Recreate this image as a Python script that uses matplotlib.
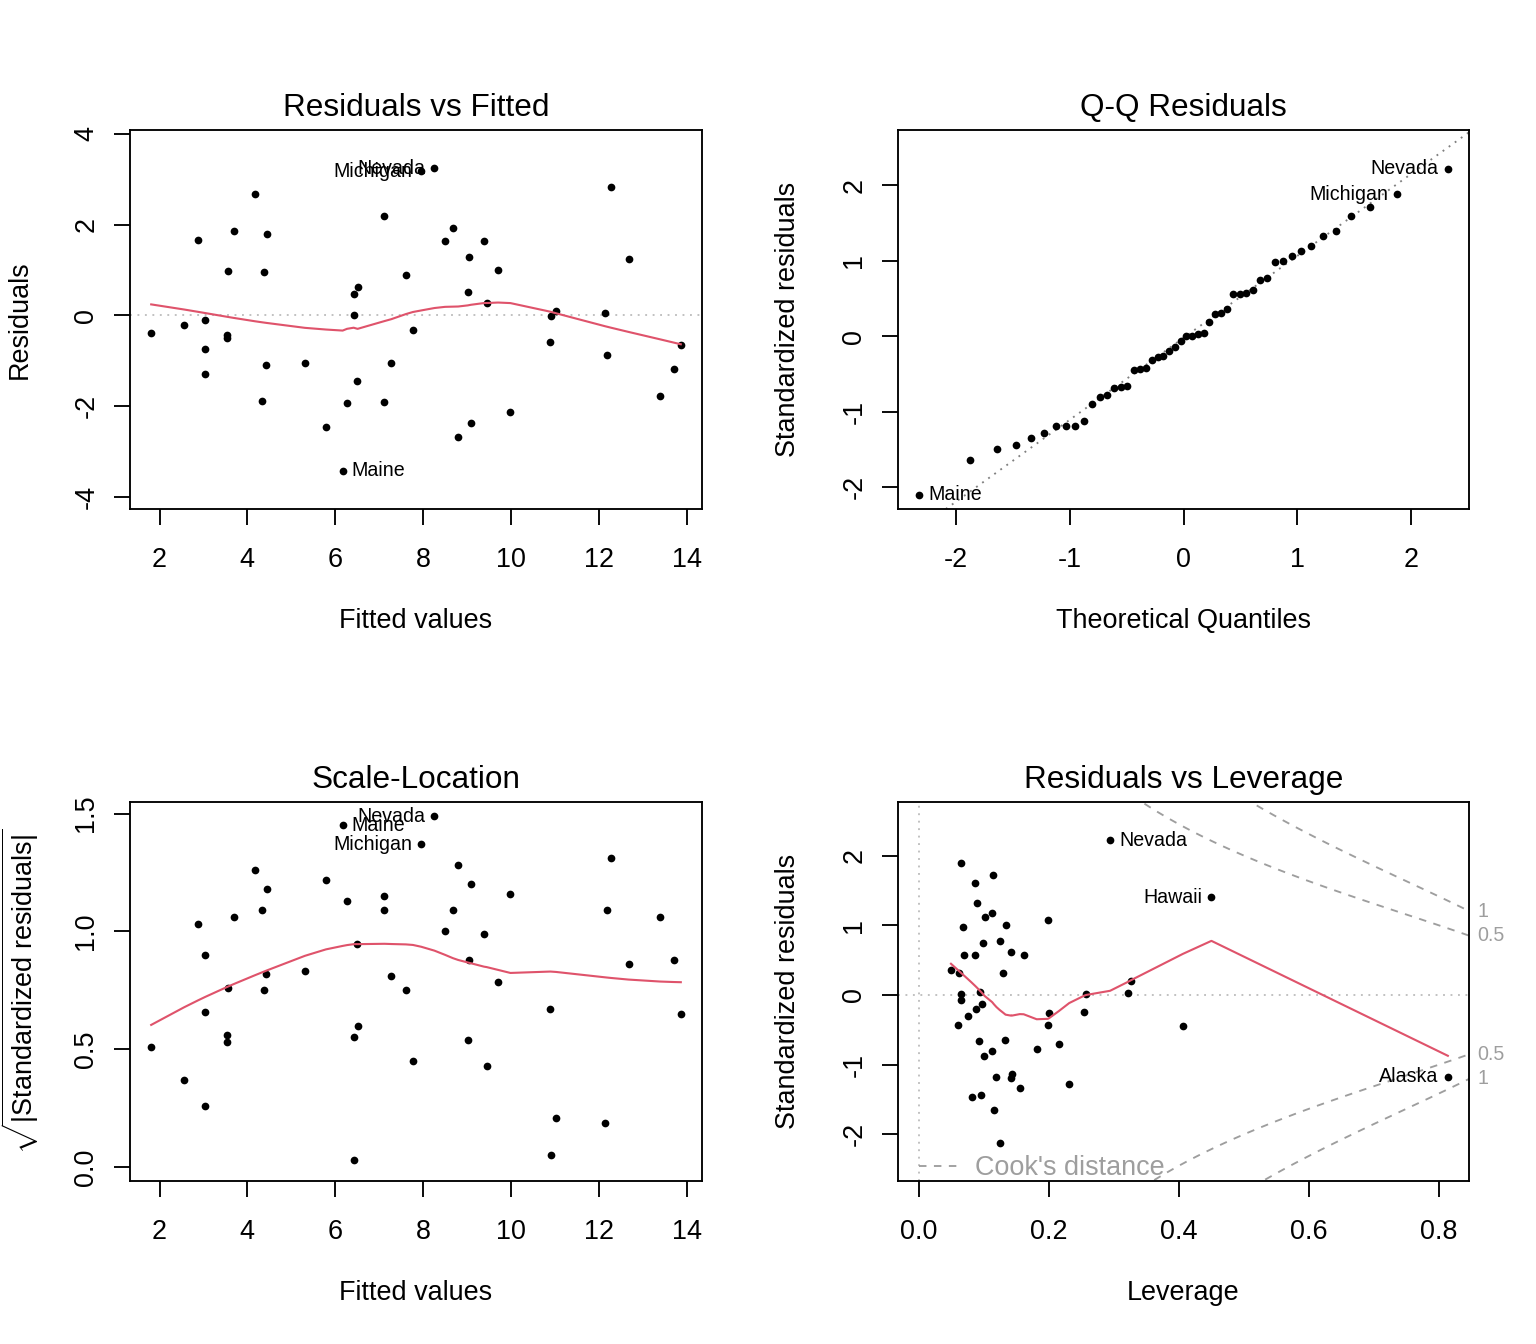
"""Regression diagnostics (plot.lm style) for a linear model on the 50 US states."""

from statistics import NormalDist

import numpy as np
import matplotlib
matplotlib.use("Agg")
from matplotlib import pyplot as plt
from matplotlib.lines import Line2D

plt.rcParams["font.family"] = ["Liberation Sans", "DejaVu Sans"]
plt.rcParams["mathtext.fontset"] = "custom"
plt.rcParams["mathtext.rm"] = "Liberation Sans"
plt.rcParams["mathtext.it"] = "Liberation Sans:italic"
plt.rcParams["axes.unicode_minus"] = False

# --- one entry per state: fitted value, raw residual, sqrt(|standardized residual|) ---
fitted = [1.81, 2.56, 2.88, 3.04, 3.04, 3.04, 3.57, 3.69, 3.54, 3.54,
          4.17, 4.44, 4.39, 4.43, 4.33, 5.31, 5.79, 6.17, 6.27, 6.42,
          6.51, 6.42, 6.49, 7.12, 7.12, 7.28, 7.61, 7.77, 7.96, 8.26,
          8.50, 8.68, 9.05, 9.02, 9.39, 9.45, 9.71, 8.80, 9.09, 9.99,
          10.90, 10.92, 11.03, 12.14, 12.29, 12.19, 12.68, 13.40, 13.71, 13.87]
residuals = [-0.39, -0.21, 1.65, -0.10, -0.73, -1.29, 0.97, 1.85, -0.43, -0.49,
             2.67, 1.79, 0.95, -1.10, -1.88, -1.05, -2.45, -3.42, -1.93, 0.48,
             0.62, 0.01, -1.44, 2.18, -1.91, -1.05, 0.90, -0.33, 3.17, 3.24,
             1.63, 1.92, 1.28, 0.51, 1.63, 0.27, 1.00, -2.67, -2.37, -2.13,
             -0.59, -0.01, 0.09, 0.06, 2.82, -0.88, 1.24, -1.77, -1.18, -0.65]
sqrt_abs_std = [0.51, 0.37, 1.03, 0.26, 0.66, 0.90, 0.76, 1.06, 0.53, 0.56,
                1.26, 1.18, 0.75, 0.82, 1.09, 0.83, 1.22, 1.45, 1.13, 0.55,
                0.60, 0.03, 0.945, 1.15, 1.09, 0.81, 0.75, 0.45, 1.37, 1.49,
                1.00, 1.09, 0.88, 0.54, 0.99, 0.43, 0.785, 1.28, 1.20, 1.16,
                0.67, 0.05, 0.21, 0.185, 1.31, 1.09, 0.86, 1.06, 0.88, 0.65]
fit_names = {17: "Maine", 28: "Michigan", 29: "Nevada"}

# --- Residuals vs Leverage panel ---
leverage = [0.064, 0.113, 0.086, 0.089, 0.112, 0.101, 0.067, 0.133, 0.198, 0.098,
            0.124, 0.069, 0.086, 0.141, 0.161, 0.129, 0.049, 0.062, 0.094, 0.065,
            0.065, 0.096, 0.088, 0.075, 0.060, 0.200, 0.198, 0.257, 0.254, 0.326,
            0.321, 0.406, 0.294, 0.450, 0.814, 0.092, 0.132, 0.112, 0.100, 0.181,
            0.215, 0.119, 0.143, 0.142, 0.155, 0.231, 0.081, 0.095, 0.115, 0.124]
lev_std_resid = [1.90, 1.72, 1.61, 1.32, 1.18, 1.12, 0.98, 1.00, 1.07, 0.745,
                 0.78, 0.58, 0.58, 0.62, 0.58, 0.31, 0.36, 0.31, 0.05, 0.01,
                 -0.07, -0.13, -0.20, -0.30, -0.43, -0.26, -0.43, 0.01, -0.25, 0.20,
                 0.03, -0.44, 2.22, 1.40, -1.17, -0.66, -0.65, -0.80, -0.88, -0.77,
                 -0.70, -1.17, -1.14, -1.19, -1.34, -1.28, -1.47, -1.44, -1.65, -2.12]
lev_names = {32: "Nevada", 33: "Hawaii", 34: "Alaska"}
n_coef = 8
cook_levels = [0.5, 1]

# --- axis ticks ---
fit_ticks = [2, 4, 6, 8, 10, 12, 14]
resid_ticks = [-4, -2, 0, 2, 4]
qq_ticks = [-2, -1, 0, 1, 2]
sl_ticks = [0.0, 0.5, 1.0, 1.5]
sl_ticklabels = ["0.0", "0.5", "1.0", "1.5"]
lev_ticks = [0.0, 0.2, 0.4, 0.6, 0.8]
lev_ticklabels = ["0.0", "0.2", "0.4", "0.6", "0.8"]

RED = "#DF536B"
COOK = "#9E9E9E"
W, H, DPI = 1536, 1344, 168
BASE, TITLE, ID = 11.6, 13.5, 8.4


def lowess(x, y, f=2 / 3, iters=3):
    """R-style lowess (tricube weights + bisquare robustness iterations)."""
    x = np.asarray(x, float)
    y = np.asarray(y, float)
    order = np.argsort(x, kind="stable")
    x, y = x[order], y[order]
    n = len(x)
    ns = max(min(int(f * n + 1e-7), n), 2)
    rng = x[-1] - x[0]
    rw = np.ones(n)
    fit = y.copy()
    for it in range(iters + 1):
        for i in range(n):
            d = np.abs(x - x[i])
            h = np.sort(d)[ns - 1]
            if h > 0:
                w = np.where(d <= 0.999 * h, (1 - np.clip(d / h, 0, 1) ** 3) ** 3, 0.0)
                w[d <= 0.001 * h] = 1.0
            else:
                w = (d == 0).astype(float)
            w = w * rw
            if w.sum() <= 0:
                fit[i] = y[i]
                continue
            w = w / w.sum()
            a = np.sum(w * x)
            c = np.sum(w * (x - a) ** 2)
            if np.sqrt(c) > 0.001 * rng:
                w = w * ((x[i] - a) * (x - a) / c + 1)
            fit[i] = np.sum(w * y)
        if it == iters:
            break
        res = np.abs(y - fit)
        cmad = 6 * np.median(res)
        if cmad < 1e-7 * np.mean(np.abs(y)):
            break
        u = res / cmad
        rw = np.where(u < 0.999, (1 - u ** 2) ** 2, 0.0)
        rw[u <= 0.001] = 1.0
    return x, fit


def extend(lo, hi, f):
    d = (hi - lo) * f
    return lo - d, hi + d


def box(l, t, r, b):
    return [l / W, 1 - b / H, (r - l) / W, (b - t) / H]


def frame(ax, title, xlabel, ylabel):
    l, b, w, h = ax.get_position().bounds
    fig.text(l + w / 2, b + h + 22 / H, title, ha="center", va="center", fontsize=TITLE)
    fig.text(l + w / 2, b - 112 / H, xlabel, ha="center", va="center", fontsize=BASE)
    fig.text(l - 110 / W, b + h / 2, ylabel, ha="center", va="center",
             rotation=90, fontsize=BASE)
    for sp in ax.spines.values():
        sp.set_linewidth(0.8)
    ax.tick_params(direction="out", length=6.9, width=0.8, labelsize=BASE)
    ax.tick_params(axis="x", pad=9.4)
    ax.tick_params(axis="y", pad=6.2, labelrotation=90)
    for lbl in ax.get_yticklabels():
        lbl.set_va("center")


def dots(ax, x, y):
    ax.plot(x, y, "o", ms=3.3, mfc="black", mec="none", ls="none")


def label(ax, x, y, text, mid):
    right = x <= mid
    ax.annotate(text, (x, y), xytext=(3.9 if right else -3.9, 0),
                textcoords="offset points", ha="left" if right else "right",
                va="center", fontsize=ID, annotation_clip=False)


fit_x = np.array(fitted)
res = np.array(residuals)
sq = np.array(sqrt_abs_std)
std = np.sign(res) * sq ** 2
n = len(fit_x)
top3 = np.argsort(-np.abs(std))[:3]
mid_fit = (fit_x.min() + fit_x.max()) / 2

fig = plt.figure(figsize=(W / DPI, H / DPI), dpi=DPI)
ax1 = fig.add_axes(box(130, 130, 702, 509))
ax2 = fig.add_axes(box(898, 130, 1469, 509))
ax3 = fig.add_axes(box(130, 802, 702, 1181))
ax4 = fig.add_axes(box(898, 802, 1469, 1181))

# --- Residuals vs Fitted ---
ax1.axhline(0, color="#BEBEBE", lw=0.8, ls=(0, (1, 3)))
dots(ax1, fit_x, res)
lx, ly = lowess(fit_x, res)
ax1.plot(lx, ly, color=RED, lw=0.9)
for i in top3:
    label(ax1, fit_x[i], res[i], fit_names[i], mid_fit)
ax1.set_xlim(*extend(fit_x.min(), fit_x.max(), 0.04))
ax1.set_ylim(*extend(*extend(res.min(), res.max(), 0.08), 0.04))
ax1.set_xticks(fit_ticks)
ax1.set_yticks(resid_ticks)
frame(ax1, "Residuals vs Fitted", "Fitted values", "Residuals")

# --- Q-Q Residuals ---
nd = NormalDist()
theo = np.array([nd.inv_cdf((k + 0.5) / n) for k in range(n)])
order = np.argsort(std, kind="stable")
theo_of = np.empty(n)
theo_of[order] = theo
q1, q3 = np.quantile(std, [0.25, 0.75])
t1, t3 = nd.inv_cdf(0.25), nd.inv_cdf(0.75)
ax2.axline((t1, q1), slope=(q3 - q1) / (t3 - t1), color="#7F7F7F", lw=0.8, ls=(0, (1, 3)))
dots(ax2, theo_of, std)
for i in top3:
    label(ax2, theo_of[i], std[i], fit_names[i], 0)
ax2.set_xlim(*extend(theo.min(), theo.max(), 0.04))
qlo, qhi = std.min(), std.max()
ax2.set_ylim(*extend(qlo, qhi + (qhi - qlo) * 0.075, 0.04))
ax2.set_xticks(qq_ticks)
ax2.set_yticks(qq_ticks)
frame(ax2, "Q-Q Residuals", "Theoretical Quantiles", "Standardized residuals")

# --- Scale-Location ---
dots(ax3, fit_x, sq)
lx, ly = lowess(fit_x, sq)
ax3.plot(lx, ly, color=RED, lw=0.9)
for i in top3:
    label(ax3, fit_x[i], sq[i], fit_names[i], mid_fit)
ax3.set_xlim(*extend(fit_x.min(), fit_x.max(), 0.04))
ax3.set_ylim(*extend(0, sq.max(), 0.04))
ax3.set_xticks(fit_ticks)
ax3.set_yticks(sl_ticks, sl_ticklabels)
frame(ax3, "Scale-Location", "Fitted values",
      r"$\sqrt{|\mathrm{Standardized\ residuals}|}$")

# --- Residuals vs Leverage ---
hii = np.array(leverage)
rs = np.array(lev_std_resid)
ax4.set_xlim(*extend(0, hii.max(), 0.04))
ax4.set_ylim(*extend(*extend(rs.min(), rs.max(), 0.08), 0.04))
ax4.axhline(0, color="#BEBEBE", lw=0.8, ls=(0, (1, 3)))
ax4.axvline(0, color="#BEBEBE", lw=0.8, ls=(0, (1, 3)))
dots(ax4, hii, rs)
lx, ly = lowess(hii, rs)
ax4.plot(lx, ly, color=RED, lw=0.9)
cooks = rs ** 2 * hii / (n_coef * (1 - hii))
mid_lev = (hii.min() + hii.max()) / 2
for i in np.argsort(-cooks)[:3]:
    label(ax4, hii[i], rs[i], lev_names[i], mid_lev)
xmax = ax4.get_xlim()[1]
hh = np.linspace(min(hii.min(), hii.max() / 100), xmax, 101)
for crit in cook_levels:
    cl = np.sqrt(crit * n_coef * (1 - hh) / hh)
    ax4.plot(hh, cl, color=COOK, lw=0.8, ls=(0, (4, 4)))
    ax4.plot(hh, -cl, color=COOK, lw=0.8, ls=(0, (4, 4)))
ymult = np.sqrt(n_coef * (1 - xmax) / xmax)
for crit in cook_levels:
    for sgn in (1, -1):
        ax4.annotate(f"{crit:g}", (1.0, sgn * np.sqrt(crit) * ymult),
                     xycoords=ax4.get_yaxis_transform(), xytext=(3.6, 0),
                     textcoords="offset points", ha="left", va="center",
                     fontsize=ID, color=COOK, annotation_clip=False)
handle = Line2D([], [], color=COOK, lw=0.8, ls=(0, (4, 4)))
ax4.legend([handle], ["Cook's distance"], loc="lower left", frameon=False,
           bbox_to_anchor=(0.036, 0.0), borderpad=0, borderaxespad=0,
           handlelength=1.6, handletextpad=0.5, fontsize=BASE, labelcolor=COOK)
ax4.set_xticks(lev_ticks, lev_ticklabels)
ax4.set_yticks(qq_ticks)
frame(ax4, "Residuals vs Leverage", "Leverage", "Standardized residuals")

fig.savefig("out.png", dpi=DPI)
plt.close(fig)
